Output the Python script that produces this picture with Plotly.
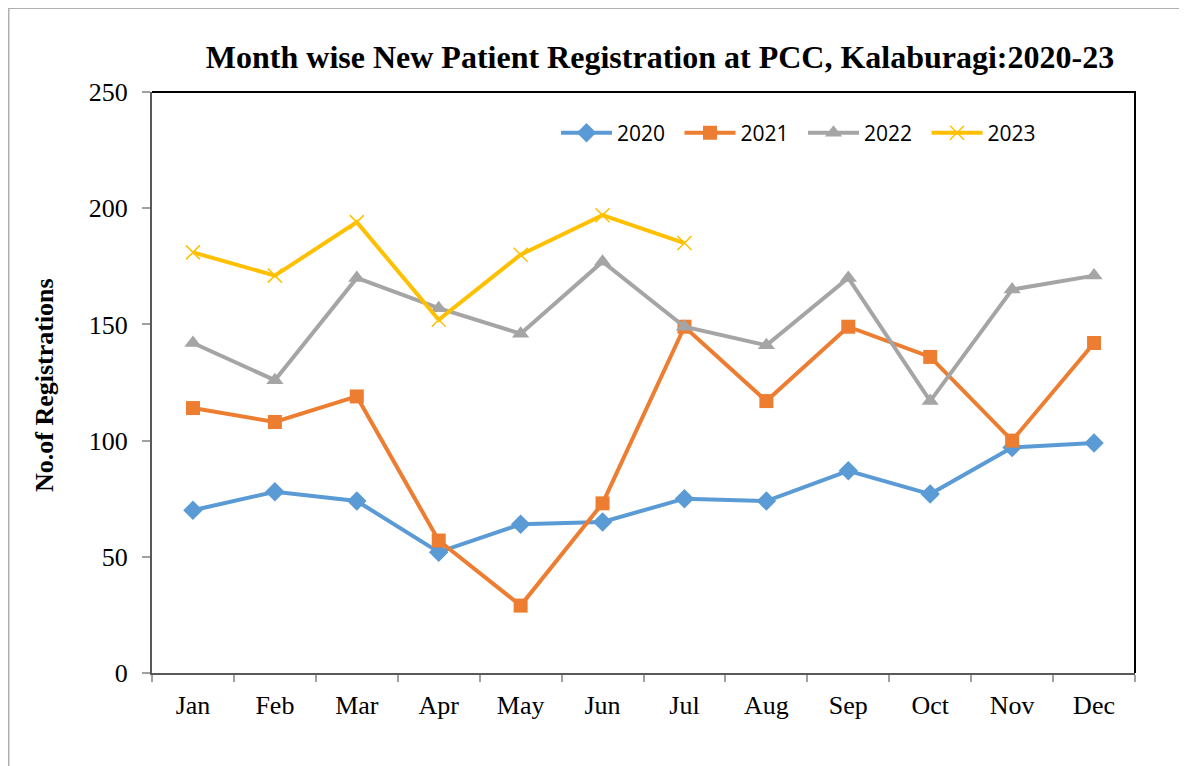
import plotly.graph_objects as go

months = ["Jan", "Feb", "Mar", "Apr", "May", "Jun", "Jul", "Aug", "Sep", "Oct", "Nov", "Dec"]
y2020 = [70, 78, 74, 52, 64, 65, 75, 74, 87, 77, 97, 99]
y2021 = [114, 108, 119, 57, 29, 73, 149, 117, 149, 136, 100, 142]
y2022 = [142, 126, 170, 157, 146, 177, 149, 141, 170, 117, 165, 171]
y2023 = [181, 171, 194, 152, 180, 197, 185]
yticks = [0, 50, 100, 150, 200, 250]

fig = go.Figure()
fig.add_trace(go.Scatter(x=months, y=y2020, name="2020", mode="lines+markers",
                         line=dict(color="#5B9BD5", width=4),
                         marker=dict(symbol="diamond", size=15, color="#5B9BD5")))
fig.add_trace(go.Scatter(x=months, y=y2021, name="2021", mode="lines+markers",
                         line=dict(color="#ED7D31", width=4),
                         marker=dict(symbol="square", size=14, color="#ED7D31")))
fig.add_trace(go.Scatter(x=months, y=y2022, name="2022", mode="lines+markers",
                         line=dict(color="#A5A5A5", width=4),
                         marker=dict(symbol="triangle-up", size=15, color="#A5A5A5")))
fig.add_trace(go.Scatter(x=months[:len(y2023)], y=y2023, name="2023", mode="lines+markers",
                         line=dict(color="#FFC000", width=4),
                         marker=dict(symbol="x-thin-open", size=14,
                                     line=dict(color="#FFC000", width=1.5))))

serif = "Liberation Serif, Times New Roman, serif"
# page body has an 8px margin: figure is placed at (8, 8)
W, H = 1179, 758
fig.update_layout(
    width=W, height=H,
    margin=dict(l=144, r=52, t=84, b=93, autoexpand=False),
    paper_bgcolor="white", plot_bgcolor="white",
    title=dict(text="<b>Month wise New Patient Registration at PCC, Kalaburagi:2020-23</b>",
               x=652 / W, xanchor="center", y=1 - 49 / H, yanchor="middle",
               font=dict(family=serif, size=32, color="black")),
    legend=dict(orientation="h", x=0.411, xanchor="left", y=0.9294, yanchor="middle",
                font=dict(family="Open Sans, Lato, sans-serif", size=21, color="black"),
                bgcolor="rgba(0,0,0,0)", entrywidth=57.5, entrywidthmode="pixels",
                itemwidth=51),
    showlegend=True,
)
fig.update_xaxes(
    type="category", categoryorder="array", categoryarray=months,
    range=[-0.5, len(months) - 0.5],
    showline=True, linecolor="#595959", linewidth=2,
    ticks="outside", tickson="boundaries", ticklen=7, tickcolor="#A0A0A0", tickwidth=1.5,
    ticklabelstandoff=8,
    showgrid=False, zeroline=False,
    tickfont=dict(family=serif, size=26, color="black"),
)
fig.update_yaxes(
    range=[0, 250], tickvals=yticks,
    showline=True, linecolor="#595959", linewidth=2,
    ticks="outside", ticklen=8, tickcolor="#A0A0A0", tickwidth=1.5,
    ticklabelstandoff=9,
    showgrid=False, zeroline=False,
    tickfont=dict(family=serif, size=26, color="black"),
)
fig.add_annotation(text="<b>No.of Registrations</b>", textangle=-90,
                   xref="paper", yref="paper", x=-0.1088, y=0.4957,
                   xanchor="center", yanchor="middle", showarrow=False,
                   font=dict(family=serif, size=26, color="black"))
# plot-area top/right border
fig.add_shape(type="path", xref="paper", yref="paper",
              path="M 0 1 L 1 1 L 1 0", line=dict(color="black", width=2))
# outer chart border (left and top)
fig.add_shape(type="path", xref="paper", yref="paper",
              path="M -0.146 -0.2 L -0.146 1.1445 L 1.1 1.1445",
              line=dict(color="#B0B0B0", width=2))

fig.write_html("out.html")
